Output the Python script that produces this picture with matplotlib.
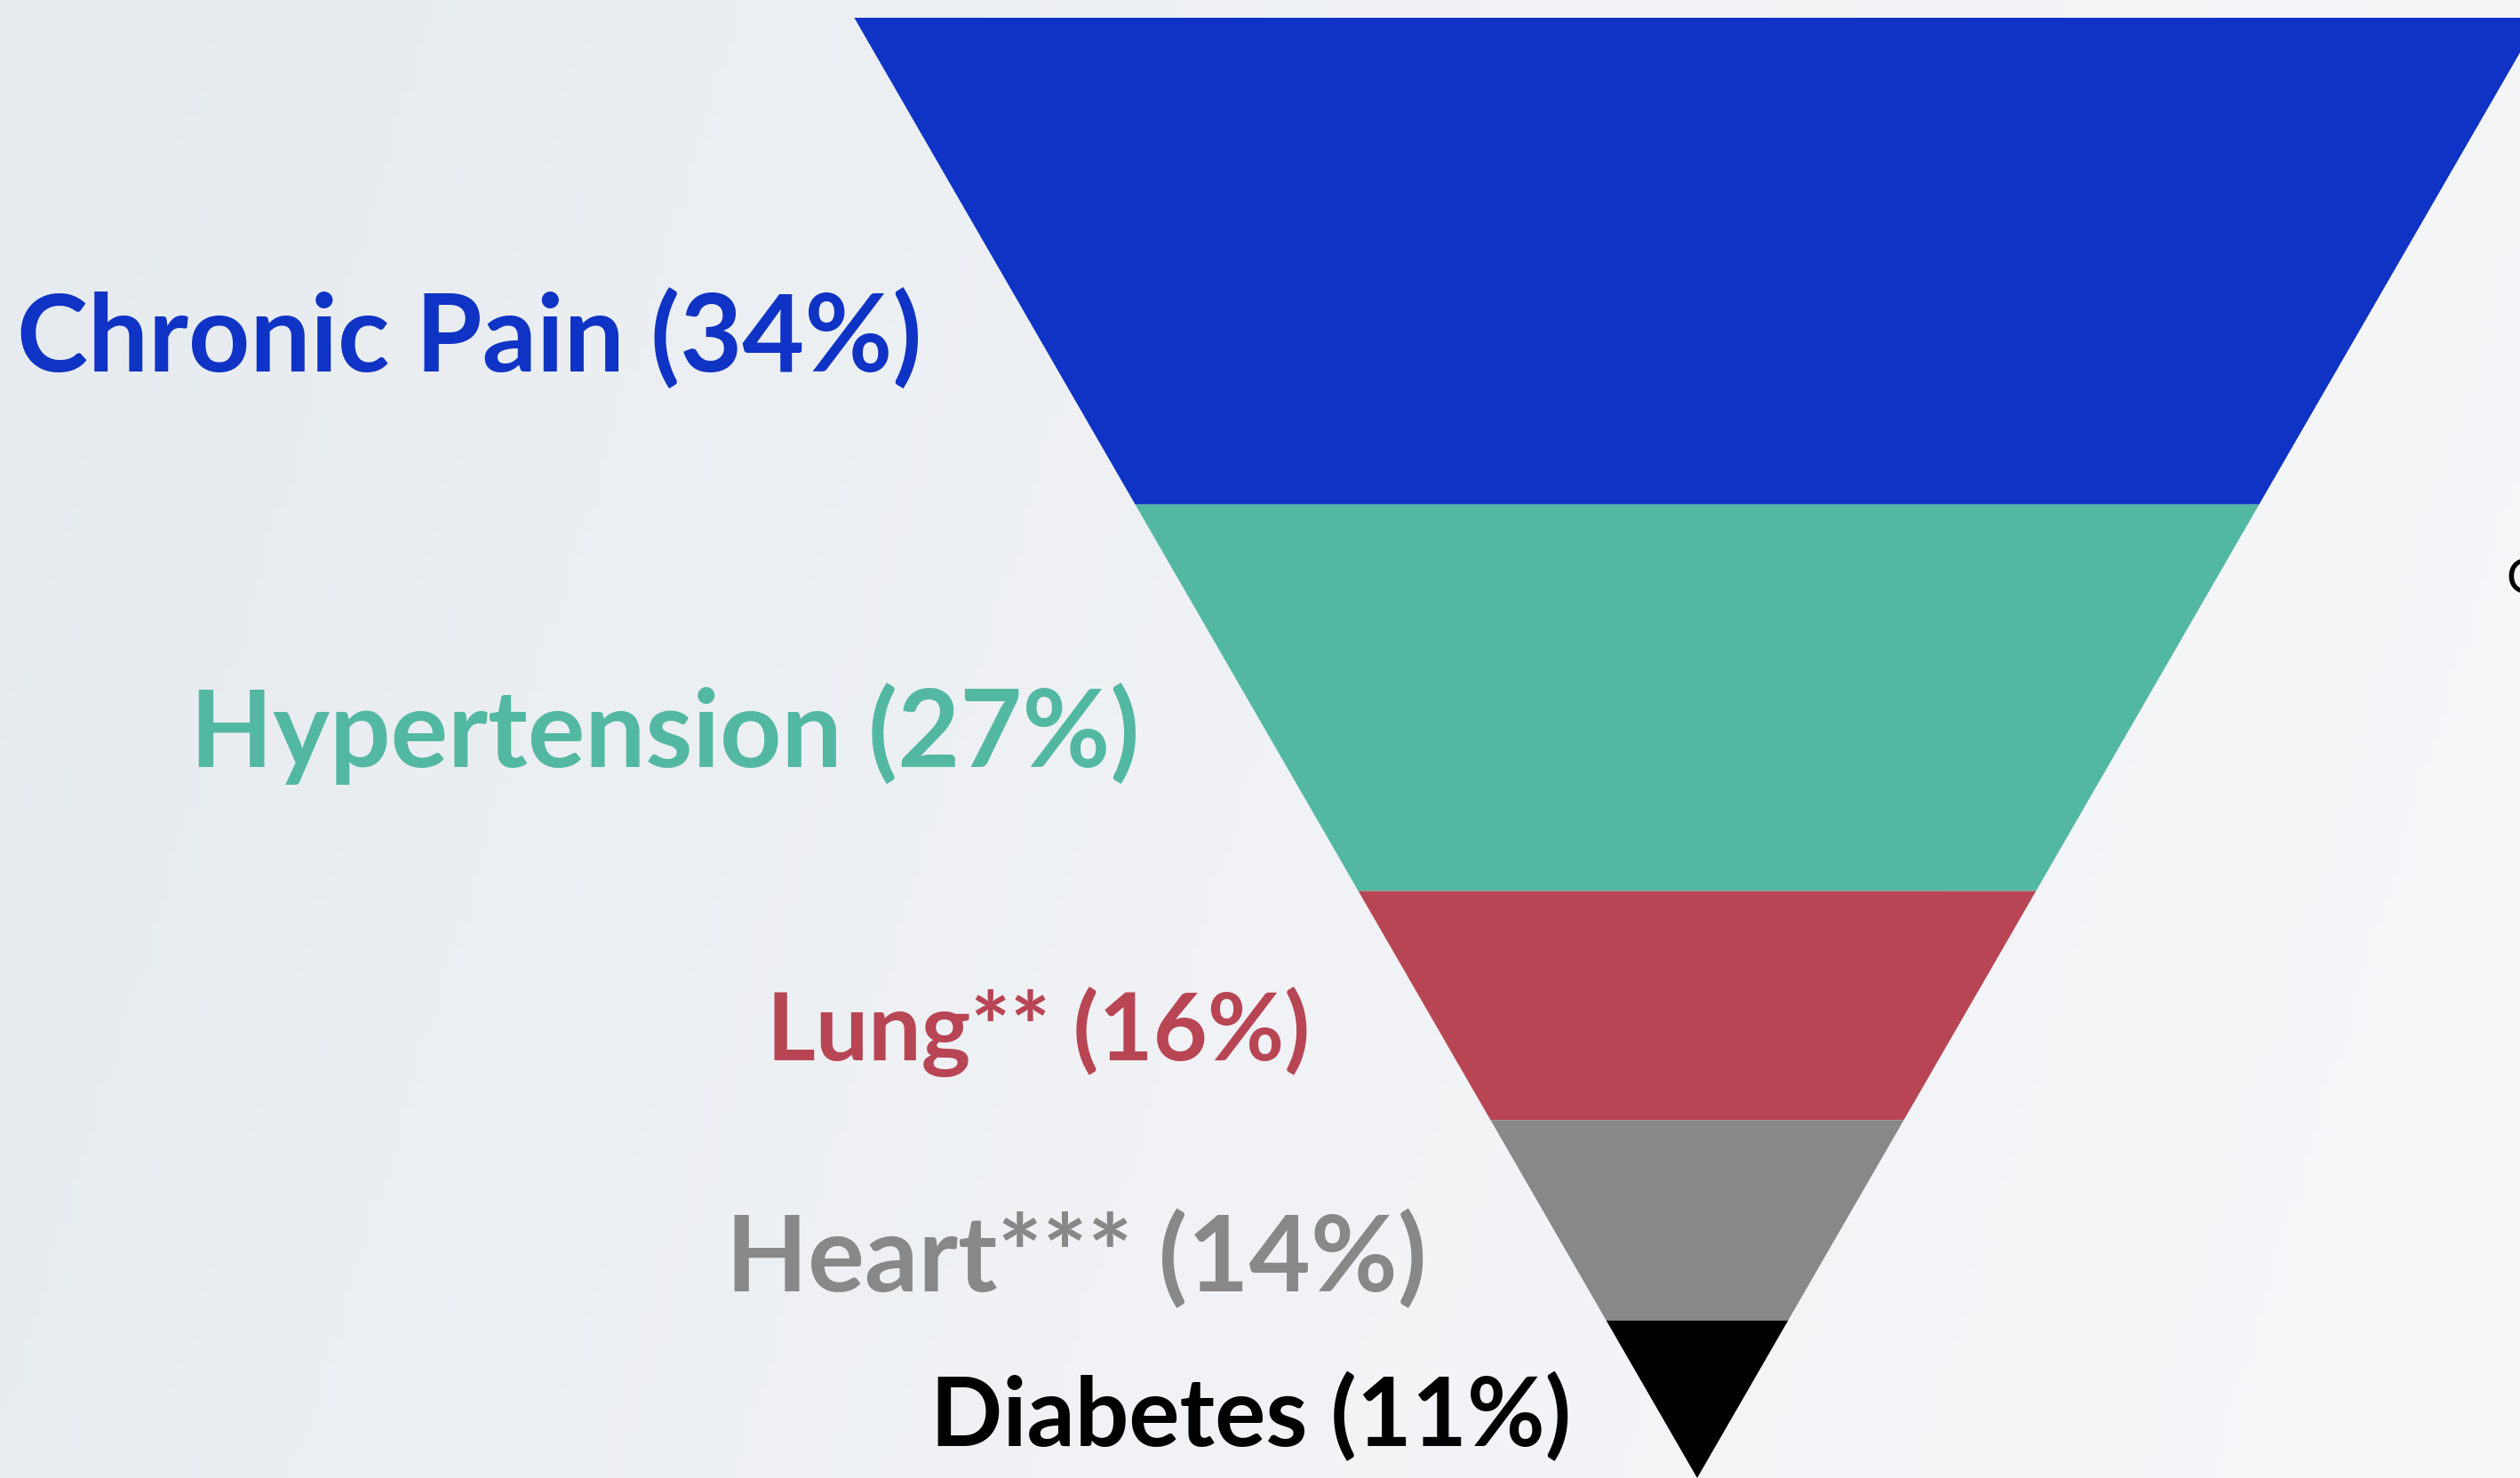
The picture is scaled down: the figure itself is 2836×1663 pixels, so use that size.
import numpy as np
import matplotlib.pyplot as plt
from matplotlib.colors import LinearSegmentedColormap

categories = ['Chronic Pain', 'Hypertension', 'Lung**', 'Heart***', 'Diabetes']
values = [34, 27, 16, 14, 11]
colors = ['#0f33c4', '#53b8a2', '#b84554', '#888888', '#000000']

# label layout: baseline height, gap to funnel edge (data units), font size (pt)
label_base = [77.25, 49.65, 29.15, 13.05, 2.25]
label_gap = [8.0, 8.75, 8.85, 9.85, 6.15]
label_size = [87, 87, 76, 86, 77]

plt.rcParams['font.family'] = ['Lato', 'DejaVu Sans']

W, H = 2836, 1663
fig = plt.figure(figsize=(W / 100, H / 100), dpi=100)

# background gradient
bg = fig.add_axes([0, 0, 1, 1])
bg.set_axis_off()
cmap = LinearSegmentedColormap.from_list('bg', ['#e6ebef', '#f0f2f5', '#f6f7f9'])
gx = np.linspace(0, 1, 256)
gy = np.linspace(0, 1, 64)
grad = gx[None, :] * 0.85 + gy[:, None] * 0.15
bg.imshow(grad, cmap=cmap, aspect='auto', extent=[0, 1, 0, 1], vmin=0, vmax=1)
bg.set_xlim(0, 1)
bg.set_ylim(0, 1)

ax = fig.add_axes([0, 0, 1, 1])
ax.set_axis_off()
ax.patch.set_alpha(0)

total = sum(values)
apex_x = 1910
scale = (H - 20) / total  # px per unit
ax.set_xlim(-apex_x / scale, (W - apex_x) / scale)
ax.set_ylim(0, total + 20 / scale)

t = np.tan(np.radians(30))
tops = np.cumsum(values[::-1])[::-1]
for i, (v, c) in enumerate(zip(values, colors)):
    y1 = tops[i]
    y0 = y1 - v
    xs = [-y1 * t, y1 * t, y0 * t, -y0 * t]
    ys = [y1, y1, y0, y0]
    ax.fill(xs, ys, color=c, lw=0)

for i, (name, v, c) in enumerate(zip(categories, values, colors)):
    yb = label_base[i]
    ymid = yb + label_size[i] * 0.5 * 0.72 / scale * 100 / 72
    x = -ymid * t - label_gap[i]
    ax.text(x, yb, f'{name} ({v}%)', color=c, fontsize=label_size[i],
            fontweight='bold', ha='right', va='baseline')

# clipped glyph at right edge
ax.text((2820 - apex_x) / scale, (H - 668) / scale, 'O', fontsize=40,
        color='black', ha='left', va='baseline')

fig.savefig('out.png', dpi=100)
